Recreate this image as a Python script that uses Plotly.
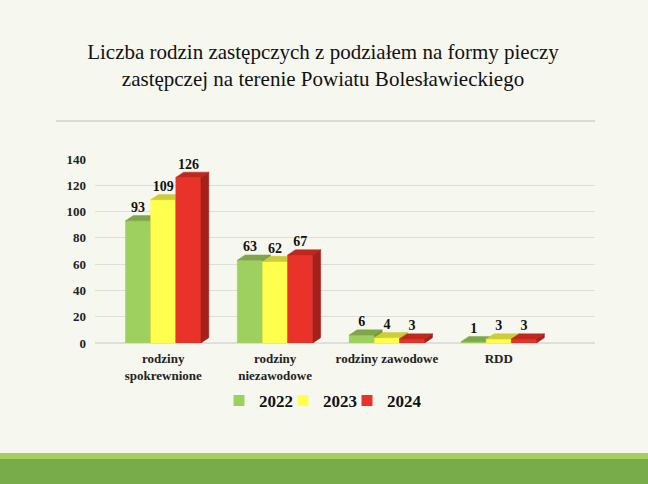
import plotly.graph_objects as go

# Data
categories = ["rodziny<br>spokrewnione", "rodziny<br>niezawodowe", "rodziny zawodowe", "RDD"]
years = ["2022", "2023", "2024"]
values_2022 = [93, 63, 6, 1]
values_2023 = [109, 62, 4, 3]
values_2024 = [126, 67, 3, 3]
y_ticks = [0, 20, 40, 60, 80, 100, 120, 140]

# Colours: front / top / side of each pseudo-3D bar
FACE_COLORS = {
    "2022": ("#9dd05e", "#7fa648", "#6f963c"),
    "2023": ("#ffff4d", "#cdcd3a", "#b8b82e"),
    "2024": ("#e8322a", "#c0281f", "#a4201a"),
}
BG = "#f6f8ef"
SERIF = "Liberation Serif, Times New Roman, serif"

BAR_W = 0.225   # bar width in category units
DX = 0.07       # depth offset (x)
DY = 4.0        # depth offset (y, data units)

# one small legend per year so they sit like the slide's legend row
LEGEND_IDS = ["legend", "legend2", "legend3"]
LEGEND_X = [0.248, 0.376, 0.504]

fig = go.Figure()

series = [("2022", values_2022), ("2023", values_2023), ("2024", values_2024)]
for j, (name, vals) in enumerate(series):
    front_c, top_c, side_c = FACE_COLORS[name]
    fx, fy, tx, ty, sx, sy = [], [], [], [], [], []
    lx, ly = [], []
    for i, v in enumerate(vals):
        x0 = i + (j - 1.5) * BAR_W
        x1 = x0 + BAR_W
        fx += [x0, x1, x1, x0, x0, None]
        fy += [0, 0, v, v, 0, None]
        tx += [x0, x1, x1 + DX, x0 + DX, x0, None]
        ty += [v, v, v + DY, v + DY, v, None]
        sx += [x1, x1 + DX, x1 + DX, x1, x1, None]
        sy += [0, DY, v + DY, v, 0, None]
        lx.append(x0 + BAR_W / 2)
        ly.append(v + DY)
    for xs, ys, col in [(fx, fy, front_c), (tx, ty, top_c), (sx, sy, side_c)]:
        fig.add_trace(go.Scatter(
            x=xs, y=ys, mode="lines", fill="toself", fillcolor=col,
            line=dict(color=col, width=0.5), showlegend=False, hoverinfo="skip",
        ))
    # value labels
    fig.add_trace(go.Scatter(
        x=lx, y=ly, mode="text", text=[f"<b>{v}</b>" for v in vals],
        textposition="top center", textfont=dict(family=SERIF, size=14, color="#111"),
        showlegend=False, hoverinfo="skip",
    ))
    # legend entry
    fig.add_trace(go.Scatter(
        x=[None], y=[None], mode="markers", name=f"<b>{name}</b>",
        marker=dict(symbol="square", size=11, color=front_c),
        legend=LEGEND_IDS[j],
    ))

legend_style = dict(
    orientation="h", xanchor="left", y=-0.315, yanchor="middle",
    font=dict(family=SERIF, size=17, color="#111"), bgcolor="rgba(0,0,0,0)",
    itemwidth=30,
)

fig.update_layout(
    width=648, height=484,
    paper_bgcolor=BG, plot_bgcolor=BG,
    margin=dict(l=95, r=53, t=159, b=141),
    font=dict(family=SERIF, color="#111"),
    title=dict(
        text="Liczba rodzin zastępczych z podziałem na formy pieczy<br>zastępczej na terenie Powiatu Bolesławieckiego",
        x=323 / 648, xanchor="center", y=1 - 59 / 484, yanchor="middle",
        font=dict(family=SERIF, size=21, color="#111"),
    ),
    legend=dict(x=LEGEND_X[0], **legend_style),
    legend2=dict(x=LEGEND_X[1], **legend_style),
    legend3=dict(x=LEGEND_X[2], **legend_style),
    shapes=[
        # rule under the title
        dict(type="line", xref="paper", yref="paper", x0=-0.078, x1=1.0,
             y0=1.2065, y1=1.2065, line=dict(color="#cfd0cb", width=1.5)),
        # green band at the bottom of the slide
        dict(type="rect", xref="paper", yref="paper", x0=-0.2, x1=1.12,
             y0=-0.598, y1=-0.63, fillcolor="#a6cf5d", line=dict(width=0), layer="below"),
        dict(type="rect", xref="paper", yref="paper", x0=-0.2, x1=1.12,
             y0=-0.63, y1=-0.78, fillcolor="#78ab4a", line=dict(width=0), layer="below"),
    ],
)

fig.update_xaxes(
    range=[-0.61, 3.86], tickvals=list(range(len(categories))), ticktext=[f"<b>{c}</b>" for c in categories],
    showgrid=False, zeroline=False, showline=False, ticks="", ticklabelstandoff=6,
    tickfont=dict(family=SERIF, size=13, color="#222"), fixedrange=True,
)
fig.update_yaxes(
    range=[0, 140], tickvals=y_ticks, ticktext=[f"<b>{t}</b>" for t in y_ticks],
    showgrid=True, gridcolor="#dedfda", gridwidth=1, zeroline=True, zerolinecolor="#dedfda",
    showline=False, ticks="", ticklabelstandoff=8,
    tickfont=dict(family=SERIF, size=13, color="#222"), fixedrange=True,
)

fig.write_html(
    "out.html",
    config={"displayModeBar": False},
    post_script="document.body.style.margin='0';document.body.style.background='" + BG + "';",
)
